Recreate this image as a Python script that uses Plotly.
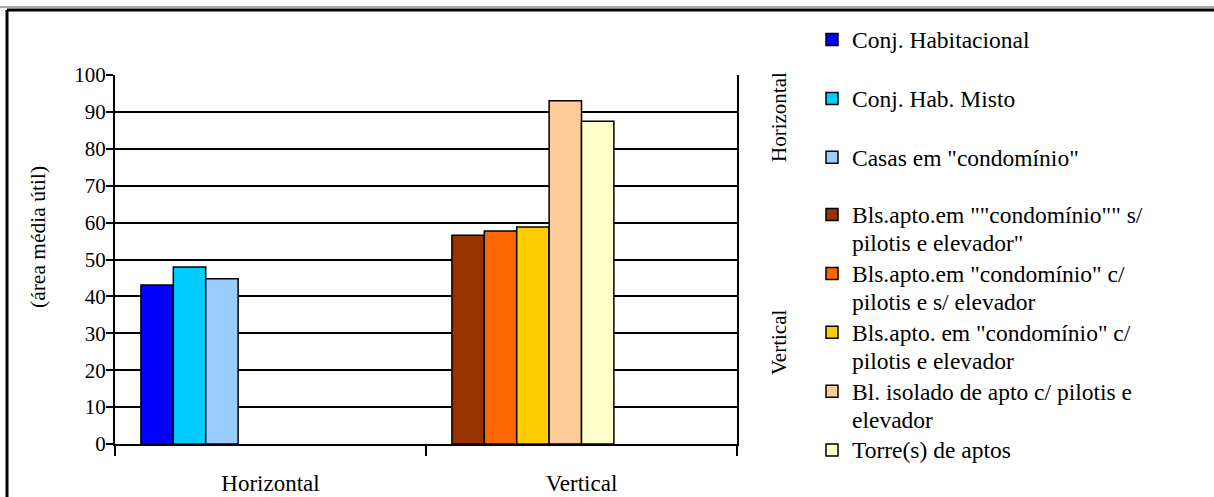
import plotly.graph_objects as go

# ---- data ----
categories = ["Horizontal", "Vertical"]

horizontal_series = ["Conj. Habitacional", "Conj. Hab. Misto", 'Casas em "condomínio"']
horizontal_values = [43.1, 48.0, 44.8]
horizontal_colors = ["#0000FF", "#00CCFF", "#99CCFF"]

vertical_series = [
    'Bls.apto.em ""condomínio"" s/ pilotis e elevador"',
    'Bls.apto.em "condomínio" c/ pilotis e s/ elevador',
    'Bls.apto. em "condomínio" c/ pilotis e elevador',
    "Bl. isolado de apto c/ pilotis e elevador",
    "Torre(s) de aptos",
]
vertical_values = [56.6, 57.7, 58.8, 93.0, 87.5]
vertical_colors = ["#993300", "#FF6600", "#FFCC00", "#FFCC99", "#FFFFCC"]

# legend wrapping (lines of each legend entry)
legend_lines = {
    "Conj. Habitacional": ["Conj. Habitacional", "&nbsp;"],
    "Conj. Hab. Misto": ["Conj. Hab. Misto", "&nbsp;"],
    'Casas em "condomínio"': ['Casas em "condomínio"', "&nbsp;"],
    'Bls.apto.em ""condomínio"" s/ pilotis e elevador"': ['Bls.apto.em ""condomínio"" s/', 'pilotis e elevador"'],
    'Bls.apto.em "condomínio" c/ pilotis e s/ elevador': ['Bls.apto.em "condomínio" c/', "pilotis e s/ elevador"],
    'Bls.apto. em "condomínio" c/ pilotis e elevador': ['Bls.apto. em "condomínio" c/', "pilotis e elevador"],
    "Bl. isolado de apto c/ pilotis e elevador": ["Bl. isolado de apto c/ pilotis e", "elevador"],
    "Torre(s) de aptos": ["Torre(s) de aptos", "&nbsp;"],
}

y_title = "(área média útil)"
group_titles = ["Horizontal", "Vertical"]

# ---- style ----
FONT = "Liberation Serif, Times New Roman, serif"
N_SLOTS = 8
GAP = 0.1667
W = (1 - GAP) / N_SLOTS


def slot_offset(k):
    return -0.5 + GAP / 2 + k * W


def legend_name(s):
    return "<br>".join('<span style="font-size:23.5px">%s</span>' % ln for ln in legend_lines[s])


fig = go.Figure()
for k, (s, v, c) in enumerate(zip(horizontal_series, horizontal_values, horizontal_colors)):
    fig.add_trace(go.Bar(
        x=[categories[0]], y=[v], name=legend_name(s), legend="legend",
        marker=dict(color=c, line=dict(color="black", width=1.5)),
        width=W, offset=slot_offset(k),
    ))
for k, (s, v, c) in enumerate(zip(vertical_series, vertical_values, vertical_colors)):
    fig.add_trace(go.Bar(
        x=[categories[1]], y=[v], name=legend_name(s), legend="legend2",
        marker=dict(color=c, line=dict(color="black", width=1.5)),
        width=W, offset=slot_offset(k),
    ))

L, R, T, B = 115, 477, 75, 53
W_PX, H_PX = 1214, 497
pw, ph = W_PX - L - R, H_PX - T - B


def px_x(x):
    return (x - L) / pw


def px_y(y):
    return (H_PX - B - y) / ph


legend_style = dict(
    xanchor="left", yanchor="top",
    font=dict(family=FONT, size=21.5, color="black"),
    valign="top", traceorder="normal", tracegroupgap=0,
    bgcolor="rgba(0,0,0,0)",
)

fig.update_layout(
    width=W_PX, height=H_PX,
    margin=dict(l=L, r=R, t=T, b=B, autoexpand=False),
    paper_bgcolor="white", plot_bgcolor="white",
    barmode="overlay",
    font=dict(family=FONT, color="black"),
    showlegend=True,
    legend=dict(x=px_x(812), y=px_y(19), **legend_style),
    legend2=dict(x=px_x(812), y=px_y(194), **legend_style),
    xaxis=dict(
        type="category", categoryorder="array", categoryarray=categories,
        range=[-0.5, 1.5],
        showline=True, linecolor="black", linewidth=2,
        ticks="outside", tickson="boundaries", ticklen=10, tickwidth=2, tickcolor="black",
        tickfont=dict(family=FONT, size=23, color="black"),
        ticklabelstandoff=17,
        showgrid=False, zeroline=False,
    ),
    yaxis=dict(
        range=[0, 100], dtick=10, tick0=0,
        showline=True, linecolor="black", linewidth=2, mirror=True,
        ticks="outside", ticklen=7, tickwidth=2, tickcolor="black",
        tickfont=dict(family=FONT, size=21, color="black"),
        ticklabelstandoff=-4,
        showgrid=True, gridcolor="black", gridwidth=1.5,
        zeroline=False,
    ),
    annotations=[
        dict(text=y_title, textangle=-90, x=px_x(38), y=px_y(237), xref="paper", yref="paper",
             xanchor="center", yanchor="middle",
             showarrow=False, font=dict(family=FONT, size=21.5, color="black")),
        dict(text=group_titles[0], textangle=-90, x=px_x(779), y=px_y(117), xref="paper", yref="paper",
             xanchor="center", yanchor="middle",
             showarrow=False, font=dict(family=FONT, size=21, color="black")),
        dict(text=group_titles[1], textangle=-90, x=px_x(779), y=px_y(343), xref="paper", yref="paper",
             xanchor="center", yanchor="middle",
             showarrow=False, font=dict(family=FONT, size=21, color="black")),
    ],
    shapes=[
        dict(type="line", xref="paper", yref="paper", x0=px_x(0), x1=px_x(1220), y0=px_y(7), y1=px_y(7),
             line=dict(color="#aaaaaa", width=2)),
        dict(type="line", xref="paper", yref="paper", x0=px_x(7), x1=px_x(1220), y0=px_y(10), y1=px_y(10),
             line=dict(color="black", width=3)),
        dict(type="line", xref="paper", yref="paper", x0=px_x(7), x1=px_x(7), y0=px_y(10), y1=px_y(505),
             line=dict(color="black", width=3)),
    ],
)

fig.write_html(
    "out.html",
    config={"displayModeBar": False},
    post_script="document.body.style.margin='0px';document.body.style.overflow='hidden';",
)
